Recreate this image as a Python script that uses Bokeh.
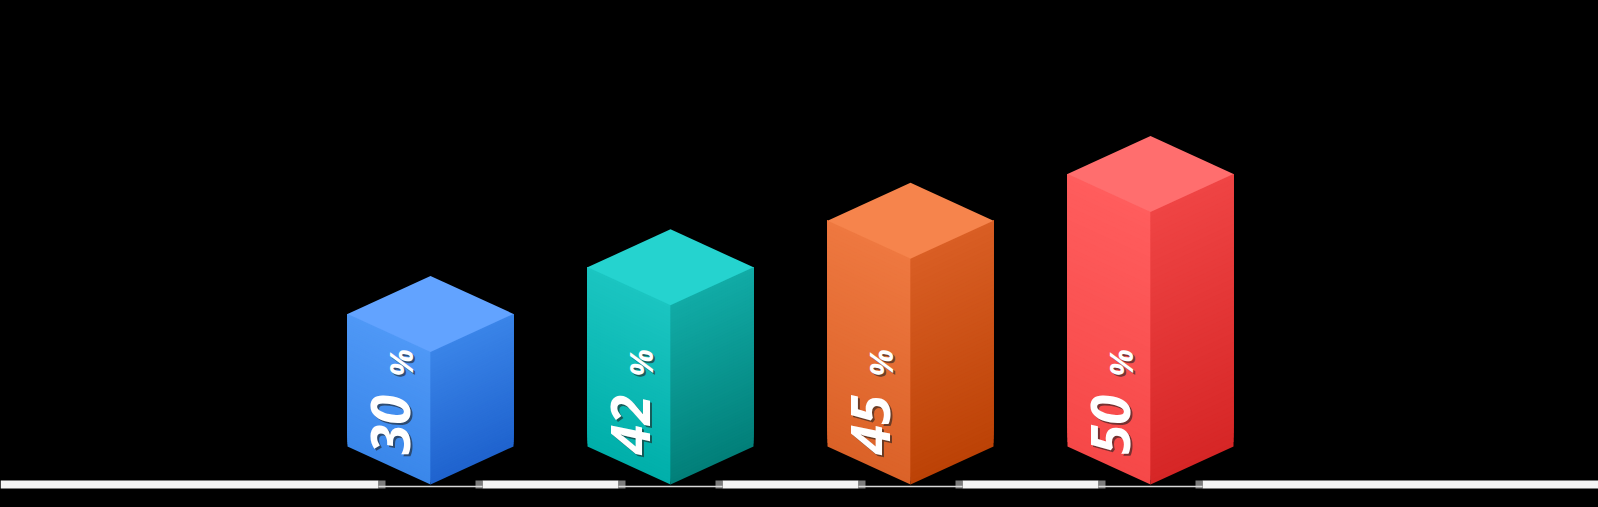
import numpy as np
from bokeh.plotting import figure
from bokeh.models import Range1d
from bokeh.core.properties import value
from bokeh.embed import file_html
from bokeh.resources import INLINE

# ---------------- data ----------------
categories = ["Bar 1", "Bar 2", "Bar 3", "Bar 4"]
values = [30, 42, 45, 50]
labels = ["30", "42", "45", "50"]
pct_labels = ["%", "%", "%", "%"]

top_colors = ["#62A3FF", "#25D3CF", "#F6844C", "#FF6E6E"]
left_top_colors = ["#4F98F6", "#1BC5C1", "#EE7840", "#FF5D5D"]
left_bottom_colors = ["#3A87EA", "#00AFAA", "#DB6228", "#F64848"]
right_top_colors = ["#3A84E8", "#11ABA6", "#D95E24", "#EF4444"]
right_bottom_colors = ["#1F63CE", "#027F79", "#BC4206", "#D62626"]

# ---------------- layout / style ----------------
W, H = 1598, 507
BASE_REF_Y = 484          # baseline row in page pixels
X0 = 430                  # first bar centre (page px)
SPACING = 240
HALF_W = 83
DEPTH = 38
BASE_H = 86               # infographic: heights step with the rank of the value
STEP_H = 46.6
NSTRIP = 60

p = figure(width=W, height=H, output_backend="svg", toolbar_location=None,
           x_range=Range1d(0, W),
           y_range=Range1d(BASE_REF_Y - H, BASE_REF_Y),
           min_border=0, background_fill_color="black", border_fill_color="black",
           outline_line_color=None)
p.axis.visible = False
p.grid.visible = False


def hex2rgb(h):
    h = h.lstrip("#")
    return np.array([int(h[i:i + 2], 16) for i in (0, 2, 4)], dtype=float)


def mix(c0, c1, t):
    c = hex2rgb(c0) * (1 - t) + hex2rgb(c1) * t
    return "#%02x%02x%02x" % tuple(int(round(v)) for v in c)


n = len(values)
ranks = np.argsort(np.argsort(values)) + 1
centers = [X0 + SPACING * i for i in range(n)]
tops = [BASE_H + STEP_H * r for r in ranks]

# ---------------- baseline strip with gaps ----------------
gap = 52
edges = [0]
for cx in centers:
    edges += [cx - gap, cx + gap]
edges.append(W)
seg_l = edges[0::2]
seg_r = edges[1::2]
p.quad(left=seg_l, right=seg_r, bottom=-4, top=4, fill_color="#F4F4F4", line_color=None)
p.quad(left=[cx - gap for cx in centers], right=[cx - gap + 7 for cx in centers],
       bottom=-4, top=4, fill_color="#9A9A9A", line_color=None, fill_alpha=0.8)
p.quad(left=[cx + gap - 7 for cx in centers], right=[cx + gap for cx in centers],
       bottom=-4, top=4, fill_color="#9A9A9A", line_color=None, fill_alpha=0.8)
p.segment(x0=[cx - gap for cx in centers], x1=[cx + gap for cx in centers],
          y0=-2, y1=-2, line_color="#D8D8D8", line_width=1.5)

# ---------------- bars (gradient faces by painter's strips) ----------------
xs, ys, cols = [], [], []
for i in range(n):
    cx, yt = centers[i], tops[i]
    for k in range(NSTRIP):
        t0 = k / NSTRIP
        tm = (k + 0.5) / NSTRIP
        # left face: strip from t0 to top, later strips cover the upper part
        xs.append([cx - HALF_W, cx, cx, cx - HALF_W])
        ys.append([DEPTH + t0 * yt, t0 * yt, yt, DEPTH + yt])
        cols.append(mix(left_bottom_colors[i], left_top_colors[i], tm))
        # right face
        xs.append([cx, cx + HALF_W, cx + HALF_W, cx])
        ys.append([t0 * yt, DEPTH + t0 * yt, DEPTH + yt, yt])
        cols.append(mix(right_bottom_colors[i], right_top_colors[i], tm))
    # top face
    xs.append([cx, cx - HALF_W, cx, cx + HALF_W])
    ys.append([yt, yt + DEPTH, yt + 2 * DEPTH, yt + DEPTH])
    cols.append(top_colors[i])

p.patches(xs=xs, ys=ys, fill_color=cols, line_color=None)

# ---------------- labels ----------------
lab_x = [cx - 40 for cx in centers]
pct_x = [cx - 30 for cx in centers]
lab_y = [30] * n
pct_y = [108] * n
font = value("Open Sans")
for dx, col, alpha in [(2, "#202020", 0.6), (0, "white", 1.0)]:
    p.text(x=lab_x, y=lab_y, text=labels, angle=np.pi / 2, x_offset=dx, y_offset=dx,
           text_font=font, text_font_style="bold italic", text_font_size="54px",
           text_color=col, text_alpha=alpha, text_baseline="middle", text_align="left")
    p.text(x=pct_x, y=pct_y, text=pct_labels, angle=np.pi / 2, x_offset=dx, y_offset=dx,
           text_font=font, text_font_style="bold italic", text_font_size="32px",
           text_color=col, text_alpha=alpha, text_baseline="middle", text_align="left")

html = file_html(p, INLINE)
html = html.replace("<head>", "<head><style>html,body{background:#000;margin:0;overflow:hidden;}</style>", 1)
open("out.html", "w").write(html)
